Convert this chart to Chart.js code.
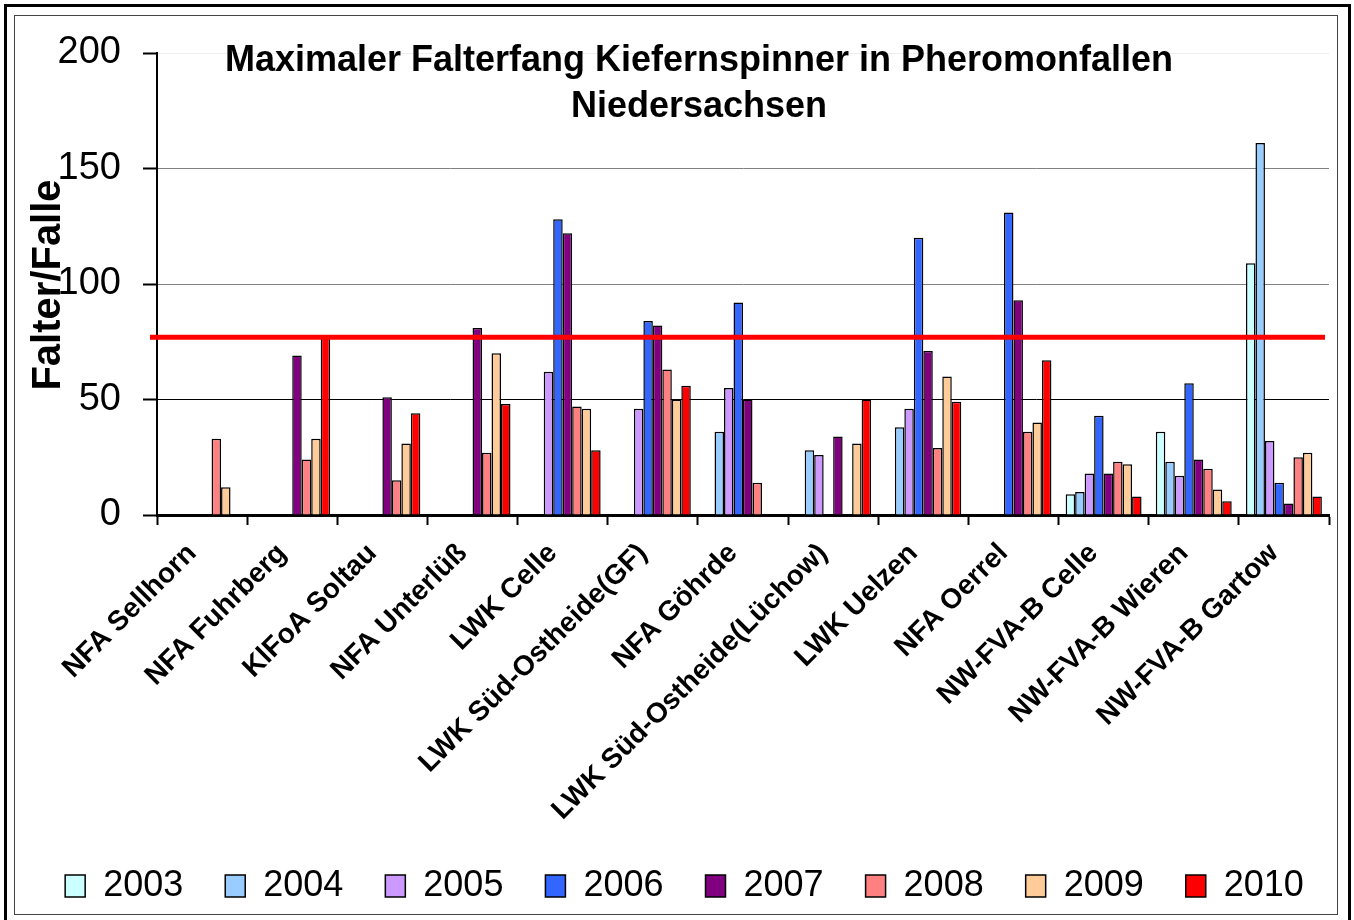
<!DOCTYPE html>
<html lang="de">

<head>
    <meta charset="UTF-8" />
    <script src="https://cdn.jsdelivr.net/npm/chart.js@4.4.0/dist/chart.umd.min.js"></script>
    <title>Maximaler Falterfang Kiefernspinner</title>
    <style>
        html, body { margin: 0; padding: 0; background: #fff; overflow: hidden; }
        #wrap { position: relative; width: 1354px; height: 920px; }
        #chart { position: absolute; left: 0; top: 0; }
        .frame { position: absolute; pointer-events: none; box-sizing: border-box; }
        #outer { left: 4px; top: 4px; width: 1347px; height: 930px; border: 3px solid #000; }
        #inner { left: 14px; top: 15px; width: 1324px; height: 900px; border: 1px solid #444; }
    </style>
</head>

<body>
    <div id="wrap">
        <canvas id="chart" width="1354" height="920"></canvas>
        <div class="frame" id="outer"></div>
        <div class="frame" id="inner"></div>
    </div>
    <script>
        const categories = [
            "NFA Sellhorn", "NFA Fuhrberg", "KlFoA Soltau", "NFA Unterlüß", "LWK Celle",
            "LWK Süd-Ostheide(GF)", "NFA Göhrde", "LWK Süd-Ostheide(Lüchow)", "LWK Uelzen",
            "NFA Oerrel", "NW-FVA-B Celle", "NW-FVA-B Wieren", "NW-FVA-B Gartow"
        ];
        const years = ["2003", "2004", "2005", "2006", "2007", "2008", "2009", "2010"];

        const y2003 = [null, null, null, null, null, null, null, null, null, null, 9, 36, 109];
        const y2004 = [null, null, null, null, null, null, 36, 28, 38, null, 10, 23, 161];
        const y2005 = [null, null, null, null, 62, 46, 55, 26, 46, null, 18, 17, 32];
        const y2006 = [null, null, null, null, 128, 84, 92, null, 120, 131, 43, 57, 14];
        const y2007 = [null, 69, 51, 81, 122, 82, 50, 34, 71, 93, 18, 24, 5];
        const y2008 = [33, 24, 15, 27, 47, 63, 14, null, 29, 36, 23, 20, 25];
        const y2009 = [12, 33, 31, 70, 46, 50, null, 31, 60, 40, 22, 11, 27];
        const y2010 = [null, 77, 44, 48, 28, 56, null, 50, 49, 67, 8, 6, 8];

        const threshold = 77;
        const yTicks = [0, 50, 100, 150, 200];

        const colors = ["#CCFFFF", "#99CCFF", "#CC99FF", "#3366FF", "#800080", "#FF8080", "#FFCC99", "#FF0000"];
        const series = [y2003, y2004, y2005, y2006, y2007, y2008, y2009, y2010];

        const FONT = "'Liberation Sans', Arial, sans-serif";

        // red limit line across the plot
        const limitLine = {
            id: "limitLine",
            afterDatasetsDraw(chart) {
                const ctx = chart.ctx;
                const area = chart.chartArea;
                const y = chart.scales.y.getPixelForValue(threshold);
                ctx.save();
                ctx.strokeStyle = "#FF0000";
                ctx.lineWidth = 5;
                ctx.beginPath();
                ctx.moveTo(area.left - 7, y);
                ctx.lineTo(area.right - 4, y);
                ctx.stroke();
                ctx.restore();
            }
        };

        // nudge the legend row a little to the right, like the original
        const legendShift = {
            id: "legendShift",
            afterLayout(chart) {
                chart.legend.left += 20;
                chart.legend.right += 20;
            }
        };

        // title inside the plot and rotated y axis title
        const texts = {
            id: "texts",
            afterDraw(chart) {
                const ctx = chart.ctx;
                ctx.save();
                ctx.fillStyle = "#000";
                ctx.textAlign = "center";
                ctx.textBaseline = "alphabetic";
                ctx.font = "bold 36px " + FONT;
                ctx.fillText("Maximaler Falterfang Kiefernspinner in Pheromonfallen", 699, 71);
                ctx.fillText("Niedersachsen", 699, 117);

                ctx.translate(60, 285);
                ctx.rotate(-Math.PI / 2);
                ctx.font = "bold 40px " + FONT;
                ctx.fillText("Falter/Falle", 0, 0);
                ctx.restore();
            }
        };

        const chart = new Chart("chart", {
            type: "bar",
            data: {
                labels: categories,
                datasets: years.map((yr, i) => ({
                    label: yr,
                    data: series[i],
                    backgroundColor: colors[i],
                    borderColor: "#000",
                    borderWidth: 1.5,
                    categoryPercentage: 0.842,
                    barPercentage: 1.0
                }))
            },
            options: {
                responsive: false,
                animation: false,
                layout: { padding: { top: 53, right: 25, bottom: 6, left: 0 } },
                plugins: {
                    title: { display: false },
                    tooltip: { enabled: false },
                    legend: {
                        position: "bottom",
                        labels: {
                            color: "#000",
                            font: { family: FONT, size: 36 },
                            boxWidth: 20,
                            boxHeight: 22,
                            padding: 42
                        }
                    }
                },
                scales: {
                    x: {
                        afterFit: s => { s.height = 311; },
                        border: { color: "#000", width: 3 },
                        grid: {
                            display: true,
                            offset: true,
                            drawOnChartArea: false,
                            drawTicks: true,
                            tickLength: 10,
                            tickColor: "#000",
                            tickWidth: 2
                        },
                        ticks: {
                            color: "#000",
                            font: { family: FONT, size: 28, weight: "bold" },
                            autoSkip: false,
                            minRotation: 45,
                            maxRotation: 45,
                            padding: 12,
                            labelOffset: -10
                        }
                    },
                    y: {
                        min: 0,
                        max: 200,
                        afterFit: s => { s.width = 157; },
                        afterBuildTicks: s => { s.ticks = yTicks.map(v => ({ value: v })); },
                        border: { color: "#000", width: 2 },
                        grid: {
                            color: c => c.tick.value === 200 ? "#eeeeee" : (c.tick.value === 50 ? "#000" : "#808080"),
                            lineWidth: 1,
                            tickLength: 14,
                            tickColor: "#000",
                            tickWidth: 2
                        },
                        ticks: {
                            color: "#000",
                            font: { family: FONT, size: 38 },
                            padding: 22
                        }
                    }
                }
            },
            plugins: [limitLine, legendShift, texts]
        });
    </script>
</body>

</html>
